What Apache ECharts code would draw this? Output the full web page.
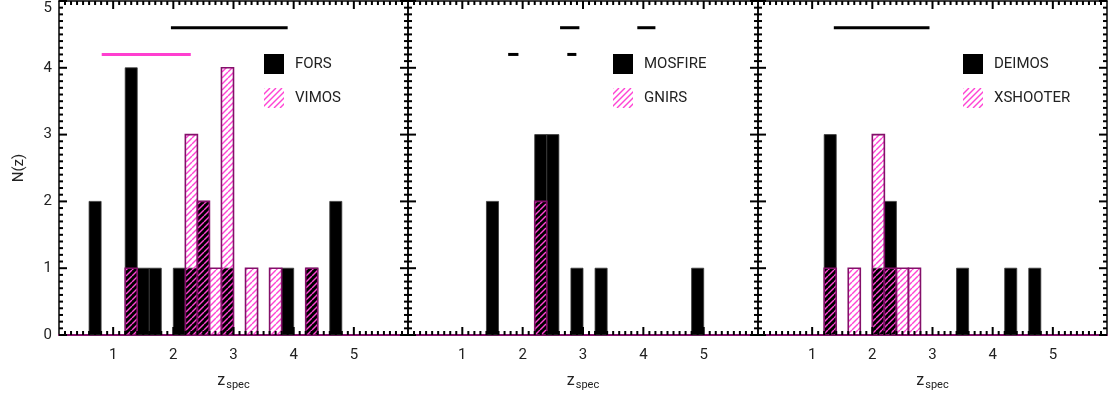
<!DOCTYPE html>
<html>
<head>
<meta charset="utf-8">
<script src="https://cdn.jsdelivr.net/npm/echarts@6/dist/echarts.min.js"></script>
<style>
  html, body { margin: 0; padding: 0; background: #fff; }
  #chart { width: 1119px; height: 395px; }
</style>
</head>
<body>
<div id="chart"></div>
<script>
// Redshift histograms in bins of 0.2 in z_spec; each entry is [bin start, count]
const BIN_WIDTH = 0.2;
const forsCounts     = [[0.6, 2], [1.2, 4], [1.4, 1], [1.6, 1], [2.0, 1], [2.2, 1], [2.4, 2], [2.8, 1], [3.8, 1], [4.2, 1], [4.6, 2]];
const vimosCounts    = [[1.2, 1], [2.2, 3], [2.4, 2], [2.6, 1], [2.8, 4], [3.2, 1], [3.6, 1], [4.2, 1]];
const mosfireCounts  = [[1.4, 2], [2.2, 3], [2.4, 3], [2.8, 1], [3.2, 1], [4.8, 1]];
const gnirsCounts    = [[2.2, 2]];
const deimosCounts   = [[1.2, 3], [2.0, 1], [2.2, 2], [3.4, 1], [4.2, 1], [4.6, 1]];
const xshooterCounts = [[1.2, 1], [1.6, 1], [2.0, 3], [2.2, 1], [2.4, 1], [2.6, 1]];

// Redshift coverage bars above the histograms: [z from, z to, level]
const forsRange    = [[1.96, 3.90, 4.6]];
const vimosRange   = [[0.81, 2.29, 4.2]];
const mosfireRange = [[2.62, 2.94, 4.6], [3.90, 4.20, 4.6], [1.76, 1.93, 4.2], [2.74, 2.89, 4.2]];
const deimosRange  = [[1.36, 2.95, 4.6]];

// Tick labels
const xTickLabels = [1, 2, 3, 4, 5];
const yTickLabels = [0, 1, 2, 3, 4, 5];

const X_MIN = 0.1, X_MAX = 5.9, Y_MIN = 0, Y_MAX = 5;
const FONT = 'Roboto';
const TEXT = '#222';
const PINK = '#ff44d4';
const PINK_EDGE = '#84106a';
const TICK_COLOR = '#000';

// Frame tick marks: [value, kind]; kind 0 = major x, 1 = minor x, 2 = major y, 3 = minor y
const frameTicks = [];
xTickLabels.forEach(function (v) { frameTicks.push([v, 0]); });
yTickLabels.forEach(function (v) { frameTicks.push([v, 2]); });
for (let k = 2; k <= 58; k++) { if (k % 10 !== 0) frameTicks.push([k / 10, 1]); }
for (let k = 1; k <= 49; k++) { if (k % 10 !== 0) frameTicks.push([k / 10, 3]); }

function hatchCanvas(size, step, color, width) {
  const c = document.createElement('canvas');
  c.width = size; c.height = size;
  const g = c.getContext('2d');
  g.strokeStyle = color; g.lineWidth = width;
  for (let k = -size; k <= 2 * size; k += step) {
    g.beginPath(); g.moveTo(k, size); g.lineTo(k + size, 0); g.stroke();
  }
  return c;
}
const hatchPattern = { type: 'pattern', image: hatchCanvas(6, 6, PINK, 1.4), repeat: 'repeat' };
const hatchIcon = 'image://' + hatchCanvas(20, 6, PINK, 1.4).toDataURL();

const panels = [
  { solid: 'FORS', solidData: forsCounts, hatched: 'VIMOS', hatchedData: vimosCounts,
    ranges: [{ data: forsRange, color: '#000' }, { data: vimosRange, color: '#ff3fd0' }] },
  { solid: 'MOSFIRE', solidData: mosfireCounts, hatched: 'GNIRS', hatchedData: gnirsCounts,
    ranges: [{ data: mosfireRange, color: '#000' }] },
  { solid: 'DEIMOS', solidData: deimosCounts, hatched: 'XSHOOTER', hatchedData: xshooterCounts,
    ranges: [{ data: deimosRange, color: '#000' }] }
];

const gridBoxes = [
  { left: 59, width: 349 },
  { left: 408, width: 350 },
  { left: 758, width: 349 }
];

function solidBar(params, api) {
  const a = api.coord([api.value(0), api.value(1)]);
  const b = api.coord([api.value(0) + BIN_WIDTH, 0]);
  return { type: 'rect', shape: { x: a[0], y: a[1], width: b[0] - a[0], height: b[1] - a[1] },
           style: { fill: '#000', stroke: '#3a3a3a', lineWidth: 0.8 } };
}
function hatchedBar(params, api) {
  const a = api.coord([api.value(0), api.value(1)]);
  const b = api.coord([api.value(0) + BIN_WIDTH, 0]);
  return { type: 'rect', shape: { x: a[0], y: a[1], width: b[0] - a[0], height: b[1] - a[1] },
           style: { fill: hatchPattern, stroke: PINK_EDGE, lineWidth: 1.6 } };
}
function rangeLine(color) {
  return function (params, api) {
    const a = api.coord([api.value(0), api.value(2)]);
    const b = api.coord([api.value(1), api.value(2)]);
    return { type: 'line', shape: { x1: a[0], y1: a[1], x2: b[0], y2: b[1] },
             style: { stroke: color, lineWidth: 3 } };
  };
}
// inward-pointing ticks on all four sides of a panel frame
function tickMark(params, api) {
  const cs = params.coordSys;
  const v = api.value(0), kind = api.value(1);
  const len = (kind === 0 || kind === 2) ? 8 : 4;
  const st = { stroke: TICK_COLOR, lineWidth: 2 };
  if (kind < 2) {
    const x = api.coord([v, Y_MIN])[0];
    const yb = cs.y + cs.height, yt = cs.y;
    return { type: 'group', children: [
      { type: 'line', shape: { x1: x, y1: yb, x2: x, y2: yb - len }, style: st },
      { type: 'line', shape: { x1: x, y1: yt, x2: x, y2: yt + len }, style: st }
    ] };
  }
  const y = api.coord([X_MIN, v])[1];
  const xl = cs.x, xr = cs.x + cs.width;
  return { type: 'group', children: [
    { type: 'line', shape: { x1: xl, y1: y, x2: xl + len, y2: y }, style: st },
    { type: 'line', shape: { x1: xr, y1: y, x2: xr - len, y2: y }, style: st }
  ] };
}

const grid = [], xAxis = [], yAxis = [], series = [], legend = [];

panels.forEach(function (p, i) {
  grid.push({ left: gridBoxes[i].left, width: gridBoxes[i].width, top: 1, height: 334,
              containLabel: false, outerBoundsMode: 'none' });

  const xBase = { gridIndex: i, type: 'value', min: X_MIN, max: X_MAX,
                  splitLine: { show: false }, axisTick: { show: false } };
  xAxis.push(Object.assign({}, xBase, {
    position: 'bottom',
    axisLine: { show: true, onZero: false, lineStyle: { color: PINK_EDGE, width: 2 } },
    axisLabel: { show: true, customValues: xTickLabels, margin: 13, fontSize: 15, color: TEXT, fontFamily: FONT },
    name: '{z|z}{s|spec}', nameLocation: 'middle', nameGap: 35,
    nameTextStyle: { fontFamily: FONT, color: TEXT, rich: {
      z: { fontSize: 16, fontFamily: FONT, color: TEXT },
      s: { fontSize: 11, fontFamily: FONT, color: TEXT, padding: [10, 0, 0, 1] } } }
  }));
  xAxis.push(Object.assign({}, xBase, {
    position: 'top',
    axisLine: { show: true, onZero: false, lineStyle: { color: '#000', width: 1.5 } },
    axisLabel: { show: false }
  }));

  const yBase = { gridIndex: i, type: 'value', min: Y_MIN, max: Y_MAX, interval: 1,
                  splitLine: { show: false }, axisTick: { show: false } };
  yAxis.push(Object.assign({}, yBase, {
    position: 'left',
    axisLine: { show: true, onZero: false, lineStyle: { color: '#000', width: 1.5 } },
    axisLabel: { show: i === 0, margin: 7, fontSize: 15, color: TEXT, fontFamily: FONT,
                 verticalAlignMaxLabel: 'top',
                 formatter: function (v) { return yTickLabels.indexOf(v) >= 0 ? String(v) : ''; } },
    name: i === 0 ? 'N(z)' : '', nameLocation: 'middle', nameGap: 32, nameRotate: 90,
    nameTextStyle: { fontSize: 15, color: TEXT, fontFamily: FONT }
  }));
  yAxis.push(Object.assign({}, yBase, {
    position: 'right',
    axisLine: { show: true, onZero: false, lineStyle: { color: '#000', width: 1.5 } },
    axisLabel: { show: false }
  }));

  const xi = 2 * i, yi = 2 * i;
  series.push({ type: 'custom', name: p.solid, xAxisIndex: xi, yAxisIndex: yi, z: 2,
                itemStyle: { color: '#000' }, encode: { x: 0, y: 1 },
                renderItem: solidBar, data: p.solidData });
  series.push({ type: 'custom', name: p.hatched, xAxisIndex: xi, yAxisIndex: yi, z: 3,
                itemStyle: { color: PINK }, encode: { x: 0, y: 1 },
                renderItem: hatchedBar, data: p.hatchedData });
  p.ranges.forEach(function (r, j) {
    series.push({ type: 'custom', name: p.solid + ' coverage ' + j, xAxisIndex: xi, yAxisIndex: yi, z: 4,
                  encode: { x: [0, 1], y: 2 }, renderItem: rangeLine(r.color), data: r.data });
  });
  series.push({ type: 'custom', name: 'frame ticks ' + i, xAxisIndex: xi, yAxisIndex: yi, z: 5,
                silent: true, clip: false, encode: { x: 0 }, renderItem: tickMark, data: frameTicks });

  legend.push({
    left: gridBoxes[i].left + 205, top: 54, padding: 0, orient: 'vertical',
    itemWidth: 20, itemHeight: 20, itemGap: 14, selectedMode: false,
    data: [
      { name: p.solid, icon: 'rect', itemStyle: { color: '#000' } },
      { name: p.hatched, icon: hatchIcon }
    ],
    textStyle: { fontSize: 15, color: TEXT, fontFamily: FONT, padding: [0, 0, 0, 6] }
  });
});

const chart = echarts.init(document.getElementById('chart'), null, { renderer: 'canvas' });
chart.setOption({
  animation: false,
  backgroundColor: '#fff',
  grid: grid,
  xAxis: xAxis,
  yAxis: yAxis,
  legend: legend,
  series: series
});
</script>
</body>
</html>
